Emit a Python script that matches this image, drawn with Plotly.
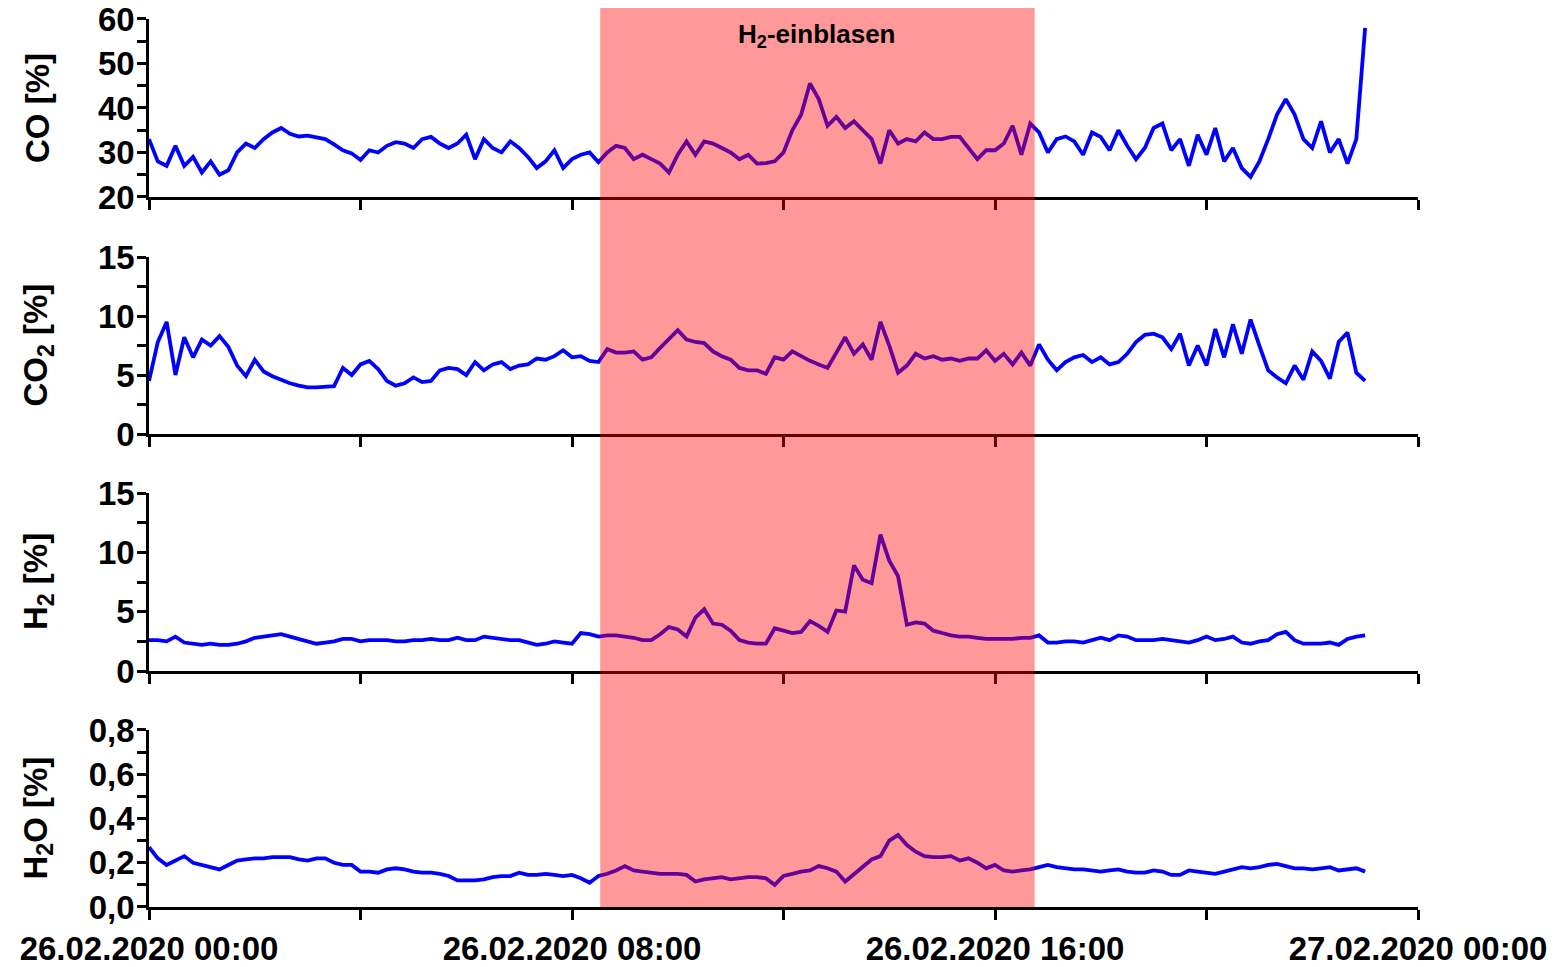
import pandas as pd
import plotly.graph_objects as go
from plotly.subplots import make_subplots

# ---------------- data (10-minute readings, 26.02.2020 00:00 .. 23:00) ----------------
start_time = "2020-02-26 00:00"
n_points = 139

co = [33, 28, 27, 31.5, 27, 29, 25.5, 28, 25, 26, 30, 32,
      31, 33, 34.5, 35.5, 34.2, 33.6, 33.8, 33.5, 33, 31.8, 30.5, 29.8,
      28.3, 30.5, 30, 31.5, 32.3, 32, 31, 33, 33.5, 32, 31, 32,
      34, 28.5, 33, 31, 30, 32.5, 31, 29, 26.5, 28, 30.5, 26.5,
      28.5, 29.5, 30, 27.8, 30, 31.5, 31, 28.5, 29.5, 28.5, 27.5, 25.5,
      29.5, 32.5, 29.5, 32.5, 32, 31, 30, 28.5, 29.5, 27.5, 27.6, 28,
      30, 35, 38.5, 45.5, 42, 36, 38, 35.5, 37, 35, 33, 27.5,
      35, 32, 33, 32.5, 34.5, 33, 33, 33.5, 33.5, 31, 28.5, 30.5,
      30.5, 32, 36, 29.5, 36.5, 34.5, 30, 33, 33.6, 32.5, 29.5, 34.5,
      33.5, 30.5, 35, 31.5, 28.5, 31, 35.5, 36.5, 30.5, 33, 27, 34,
      29.5, 35.5, 28, 31, 26.5, 24.5, 28, 33, 38.5, 42, 38.5, 33,
      31, 37, 30, 33, 27.5, 33, 58]

co2 = [4.5, 7.8, 9.5, 5.0, 8.2, 6.5, 8.0, 7.5, 8.3, 7.4, 5.8, 4.9,
       6.3, 5.3, 4.9, 4.6, 4.3, 4.1, 3.95, 3.95, 4.0, 4.05, 5.6, 5.0,
       5.9, 6.2, 5.5, 4.5, 4.1, 4.3, 4.8, 4.4, 4.5, 5.4, 5.6, 5.5,
       5.0, 6.1, 5.4, 5.9, 6.1, 5.5, 5.8, 5.9, 6.4, 6.3, 6.6, 7.1,
       6.5, 6.6, 6.2, 6.1, 7.2, 6.9, 6.9, 7.0, 6.3, 6.5, 7.3, 8.1,
       8.8, 8.0, 7.8, 7.7, 7.0, 6.6, 6.3, 5.6, 5.4, 5.4, 5.1, 6.5,
       6.3, 7.0, 6.6, 6.2, 5.9, 5.6, 6.9, 8.2, 6.8, 7.6, 6.3, 9.5,
       7.5, 5.2, 5.8, 6.8, 6.4, 6.6, 6.3, 6.4, 6.2, 6.4, 6.4, 7.1,
       6.2, 6.8, 5.9, 6.9, 5.8, 7.6, 6.3, 5.4, 6.1, 6.5, 6.7, 6.1,
       6.5, 5.9, 6.1, 6.8, 7.8, 8.4, 8.5, 8.2, 7.2, 8.5, 5.8, 7.5,
       5.8, 8.9, 6.5, 9.3, 6.8, 9.7, 7.5, 5.4, 4.8, 4.3, 5.8, 4.6,
       7.0, 6.2, 4.7, 7.8, 8.6, 5.2, 4.5]

h2 = [2.6, 2.6, 2.5, 2.9, 2.4, 2.3, 2.2, 2.3, 2.2, 2.2, 2.3, 2.5,
      2.8, 2.9, 3.0, 3.1, 2.9, 2.7, 2.5, 2.3, 2.4, 2.5, 2.7, 2.7,
      2.5, 2.6, 2.6, 2.6, 2.5, 2.5, 2.6, 2.6, 2.7, 2.6, 2.6, 2.8,
      2.6, 2.6, 2.9, 2.8, 2.7, 2.6, 2.6, 2.4, 2.2, 2.3, 2.5, 2.4,
      2.3, 3.2, 3.1, 2.9, 3.0, 3.0, 2.9, 2.8, 2.6, 2.6, 3.1, 3.7,
      3.5, 2.9, 4.5, 5.2, 4.0, 3.9, 3.4, 2.6, 2.4, 2.3, 2.3, 3.6,
      3.4, 3.2, 3.3, 4.2, 3.8, 3.3, 5.1, 5.0, 8.9, 7.7, 7.4, 11.5,
      9.3, 8.0, 3.9, 4.1, 4.0, 3.4, 3.2, 3.0, 2.9, 2.9, 2.8, 2.7,
      2.7, 2.7, 2.7, 2.8, 2.8, 3.0, 2.4, 2.4, 2.5, 2.5, 2.4, 2.6,
      2.8, 2.6, 3.0, 2.9, 2.6, 2.6, 2.6, 2.7, 2.6, 2.5, 2.4, 2.6,
      2.9, 2.6, 2.7, 2.9, 2.4, 2.3, 2.5, 2.6, 3.1, 3.3, 2.6, 2.3,
      2.3, 2.3, 2.4, 2.2, 2.7, 2.9, 3.0]

h2o = [0.27, 0.22, 0.19, 0.21, 0.23, 0.20, 0.19, 0.18, 0.17, 0.19, 0.21, 0.215,
       0.22, 0.22, 0.225, 0.225, 0.225, 0.215, 0.21, 0.22, 0.22, 0.20, 0.19, 0.19,
       0.16, 0.16, 0.155, 0.17, 0.175, 0.17, 0.16, 0.155, 0.155, 0.15, 0.14, 0.12,
       0.12, 0.12, 0.125, 0.135, 0.14, 0.14, 0.155, 0.145, 0.145, 0.15, 0.145, 0.14,
       0.145, 0.13, 0.11, 0.14, 0.15, 0.165, 0.185, 0.165, 0.16, 0.155, 0.15, 0.15,
       0.15, 0.145, 0.115, 0.125, 0.13, 0.135, 0.125, 0.13, 0.135, 0.135, 0.13, 0.10,
       0.14, 0.15, 0.16, 0.165, 0.185, 0.175, 0.16, 0.115, 0.15, 0.18, 0.215, 0.23,
       0.30, 0.325, 0.28, 0.25, 0.23, 0.225, 0.225, 0.23, 0.21, 0.22, 0.20, 0.175,
       0.19, 0.165, 0.16, 0.165, 0.17, 0.18, 0.19, 0.18, 0.175, 0.17, 0.17, 0.165,
       0.16, 0.165, 0.17, 0.16, 0.155, 0.155, 0.165, 0.16, 0.145, 0.145, 0.165, 0.16,
       0.155, 0.15, 0.16, 0.17, 0.18, 0.175, 0.18, 0.19, 0.195, 0.185, 0.175, 0.175,
       0.17, 0.175, 0.18, 0.165, 0.17, 0.175, 0.16]

y_titles = ["CO [%]", "CO<sub>2</sub> [%]", "H<sub>2</sub> [%]", "H<sub>2</sub>O [%]"]
x_tickvals = ["2020-02-26 00:00", "2020-02-26 04:00", "2020-02-26 08:00", "2020-02-26 12:00",
              "2020-02-26 16:00", "2020-02-26 20:00", "2020-02-27 00:00"]
x_ticktext = ["26.02.2020 00:00", "", "26.02.2020 08:00", "", "26.02.2020 16:00", "", "27.02.2020 00:00"]
band_start, band_end = "2020-02-26 08:32", "2020-02-26 16:45"
band_label = "H<sub>2</sub>-einblasen"

# ---------------- figure ----------------
times = pd.date_range(start_time, periods=n_points, freq="10min")
series = [co, co2, h2, h2o]

FONT = "Arial, Liberation Sans, sans-serif"
fig = make_subplots(rows=4, cols=1, shared_xaxes=True)
for r, s in enumerate(series, start=1):
    fig.add_trace(go.Scatter(x=times, y=s, mode="lines",
                             line=dict(color="#0000FF", width=3.8), showlegend=False),
                  row=r, col=1)

domains = [[0.7898, 0.9878], [0.5261, 0.7230], [0.2625, 0.4605], [0.0, 0.1969]]
yranges = [[20, 60], [0, 15], [0, 15], [0, 0.8]]
ydticks = [10, 5, 5, 0.2]
yminor = [5, 2.5, 2.5, 0.1]
yfmt = ["d", "d", "d", ".1f"]

tickfont = dict(family=FONT, size=33, color="black", weight="bold")
for i in range(4):
    sfx = "" if i == 0 else str(i + 1)
    fig.layout["yaxis" + sfx].update(
        domain=domains[i], range=yranges[i], dtick=ydticks[i], tick0=0,
        tickformat=yfmt[i], showline=True, linecolor="black", linewidth=2.5,
        ticks="outside", ticklen=9, tickwidth=2.5, tickcolor="black",
        minor=dict(dtick=yminor[i], ticks="outside", ticklen=9, tickwidth=2.5, tickcolor="black"),
        showgrid=False, zeroline=False, tickfont=tickfont, fixedrange=True,
        automargin=False, ticklabelstandoff=-4)
    fig.layout["xaxis" + sfx].update(
        range=["2020-02-26 00:00", "2020-02-27 00:00"],
        tickvals=x_tickvals, ticktext=x_ticktext,
        showticklabels=(i == 3), showline=True, linecolor="black", linewidth=2.5,
        ticks="outside", ticklen=10, tickwidth=2.5, tickcolor="black",
        showgrid=False, zeroline=False, tickfont=tickfont, automargin=False,
        ticklabelstandoff=1)
    ymid = (domains[i][0] + domains[i][1]) / 2
    fig.add_annotation(text=y_titles[i], xref="paper", yref="paper", x=0, y=ymid,
                       xshift=-111, xanchor="center", yanchor="middle", textangle=-90,
                       showarrow=False, font=dict(family=FONT, size=33, color="black", weight="bold"))

fig.add_shape(type="rect", xref="x", yref="paper", x0=band_start, x1=band_end, y0=0, y1=1,
              fillcolor="red", opacity=0.4, line=dict(width=0), layer="above")
fig.add_annotation(text=band_label, xref="x", yref="paper",
                   x=pd.Timestamp(band_start) + (pd.Timestamp(band_end) - pd.Timestamp(band_start)) / 2,
                   y=0.969, showarrow=False, xanchor="center", yanchor="middle",
                   font=dict(family=FONT, size=26, color="black", weight="bold"))

fig.update_layout(width=1554, height=967, margin=dict(l=149, r=136, t=8, b=60, autoexpand=False),
                  template="none",
                  paper_bgcolor="white", plot_bgcolor="white", separators=",.",
                  font=dict(family=FONT, color="black"))
fig.write_html("out.html", config={"displayModeBar": False})
